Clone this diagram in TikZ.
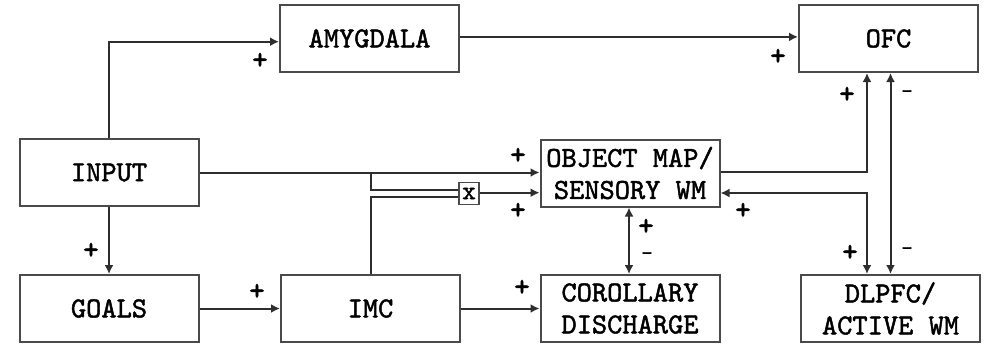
\documentclass[tikz,border=0pt]{standalone}
\usepackage{fontspec}
\newfontfamily\boxfont{lmmono10-regular.otf}[FakeBold=1.6]
\usetikzlibrary{arrows.meta,positioning,calc}
\definecolor{ink}{HTML}{2E2E2E}
\definecolor{edge}{HTML}{4A4A4A}

\begin{document}
\begin{tikzpicture}[
  x=0.5pt, y=-0.5pt,
  font=\boxfont\fontsize{14.5}{16}\selectfont,
  flow/.style={-{Latex[length=4.5pt,width=4.5pt]}, draw=ink, line width=1pt},
  both/.style={flow, {Latex[length=4.5pt,width=4.5pt]}-{Latex[length=4.5pt,width=4.5pt]}},
  wire/.style={draw=ink, line width=1pt},
  box/.style={draw=edge, line width=1pt, fill=white, minimum width=89.5pt,
              minimum height=33.5pt, align=center, inner sep=1pt},
  gatebox/.style={draw=edge, line width=.9pt, minimum width=10pt,
                  minimum height=11pt, inner sep=0pt,
                  font=\boxfont\fontsize{13}{13}\selectfont},
  sign/.style={font=\boxfont\fontsize{15}{15}\selectfont, inner sep=0pt},
  minus/.style={font=\boxfont\fontsize{11}{11}\selectfont, inner sep=0pt}
]
\useasboundingbox (0,0) rectangle (990,343);

% Kasten
\node[box] (input)  at (109,172.5)   {INPUT};
\node[box] (amyg)   at (369.5,38.5)  {AMYGDALA};
\node[box] (ofc)    at (888.5,38.5)  {OFC};
\node[box] (objmap) at (630,173)     {OBJECT MAP/\\SENSORY WM};
\node[box] (goals)  at (109,308.5)   {GOALS};
\node[box] (imc)    at (370.5,308.5) {IMC};
\node[box] (cd)     at (630,308.5)   {COROLLARY\\DISCHARGE};
\node[box] (dlpfc)  at (890.5,308.5) {DLPFC/\\ACTIVE WM};
\node[gatebox] (gate) at (469,193.5) {x};

% Verbindungen
\draw[flow] (input.north) |- ([yshift=-1.6pt]amyg.west);
\draw[flow] ([yshift=.8pt]amyg.east) -- ([yshift=.8pt]amyg.east -| ofc.west);
\draw[flow] (input.east) -- (input.east -| objmap.west);
\draw[flow] (input) -- (goals);
\draw[flow] (goals) -- (imc);
\draw[flow] (imc) -- (cd);

\coordinate (tap) at (imc.north |- input.east);
\draw[wire] (tap) |- ([yshift=1.75pt]gate.west);
\draw[wire] (imc.north) |- ([yshift=-1.75pt]gate.west);
\draw[flow] ([yshift=.4pt]gate.east) -- ([yshift=.4pt]gate.east -| objmap.west);

\draw[both] ([xshift=-.5pt]objmap.south) -- ([xshift=-.5pt]objmap.south |- cd.north);

\coordinate (bus) at ([xshift=-10.75pt]ofc.south);
\draw[flow] ([yshift=.5pt]objmap.east) -| (bus);
\draw[both] ([yshift=-10pt]objmap.east) -| (bus |- dlpfc.north);
\draw[both] (dlpfc.north |- ofc.south) -- (dlpfc.north);

% Vorzeichen
\node[sign] (s-amyg)   at (260,61)  {+};
\node[sign] (s-ofc)    at (778,57)  {+};
\node[sign] (s-objin)  at (518,156) {+};
\node[sign] (s-gate)   at (518,211) {+};
\node[sign] (s-goals)  at (91,251)  {+};
\node[sign] (s-imc)    at (257,292) {+};
\node[sign] (s-cd)     at (522,288) {+};
\node[sign] (s-cdup)   at (646,227) {+};
\node[minus] (s-cddn)  at (647,256) {-};
\node[sign] (s-ofcp)   at (847,95)  {+};
\node[minus] (s-ofcm)  at (907,94)  {-};
\node[sign] (s-objwm)  at (743,211) {+};
\node[sign] (s-dlp)    at (850,253) {+};
\node[minus] (s-dlm)   at (907,251) {-};

\end{tikzpicture}
\end{document}
